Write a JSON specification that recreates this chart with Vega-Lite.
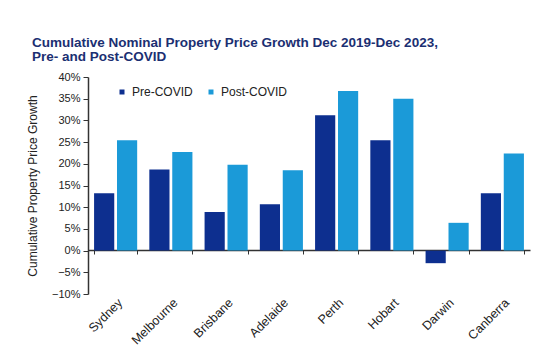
{
  "$schema": "https://vega.github.io/schema/vega-lite/v6.json",
  "width": 442,
  "height": 217,
  "autosize": "none",
  "padding": {"left": 88, "top": 77, "right": 21, "bottom": 59},
  "background": "white",
  "config": {
    "font": "Liberation Sans",
    "view": {"stroke": null},
    "axis": {"labelFont": "Liberation Sans", "titleFont": "Liberation Sans", "labelColor": "#222222", "titleColor": "#222222", "domainColor": "#333333", "tickColor": "#333333", "grid": false}
  },
  "title": {
    "text": ["Cumulative Nominal Property Price Growth Dec 2019-Dec 2023,", "Pre- and Post-COVID"],
    "anchor": "start",
    "frame": "group",
    "dx": -56,
    "offset": 8,
    "fontSize": 13.5,
    "fontWeight": "bold",
    "color": "#1b2f72",
    "lineHeight": 14,
    "font": "Liberation Sans"
  },
  "data": {
    "values": [
      {"city": "Sydney", "period": "Pre-COVID", "growth": 0.132},
      {"city": "Sydney", "period": "Post-COVID", "growth": 0.254},
      {"city": "Melbourne", "period": "Pre-COVID", "growth": 0.187},
      {"city": "Melbourne", "period": "Post-COVID", "growth": 0.227},
      {"city": "Brisbane", "period": "Pre-COVID", "growth": 0.089},
      {"city": "Brisbane", "period": "Post-COVID", "growth": 0.198},
      {"city": "Adelaide", "period": "Pre-COVID", "growth": 0.107},
      {"city": "Adelaide", "period": "Post-COVID", "growth": 0.185},
      {"city": "Perth", "period": "Pre-COVID", "growth": 0.312},
      {"city": "Perth", "period": "Post-COVID", "growth": 0.368},
      {"city": "Hobart", "period": "Pre-COVID", "growth": 0.254},
      {"city": "Hobart", "period": "Post-COVID", "growth": 0.35},
      {"city": "Darwin", "period": "Pre-COVID", "growth": -0.029},
      {"city": "Darwin", "period": "Post-COVID", "growth": 0.064},
      {"city": "Canberra", "period": "Pre-COVID", "growth": 0.132},
      {"city": "Canberra", "period": "Post-COVID", "growth": 0.224}
    ]
  },
  "mark": {"type": "bar", "stroke": null},
  "encoding": {
    "x": {
      "field": "city",
      "type": "nominal",
      "sort": null,
      "scale": {"paddingInner": 0.22, "paddingOuter": 0.11},
      "axis": {
        "title": null,
        "offset": -44,
        "tickBand": "extent",
        "tickSize": 4,
        "labelAngle": -45,
        "labelPadding": 42,
        "labelFontSize": 12.5,
        "domainWidth": 1.5
      }
    },
    "xOffset": {
      "field": "period",
      "sort": ["Pre-COVID", "Post-COVID"],
      "scale": {"paddingInner": 0.12}
    },
    "y": {
      "field": "growth",
      "type": "quantitative",
      "scale": {"domain": [-0.1, 0.4], "nice": false},
      "axis": {
        "title": "Cumulative  Property  Price Growth",
        "titleFontSize": 12,
        "titleFontWeight": "normal",
        "titlePadding": 12,
        "format": ".0%",
        "values": [-0.1, -0.05, 0, 0.05, 0.1, 0.15, 0.2, 0.25, 0.3, 0.35, 0.4],
        "labelFontSize": 11,
        "tickSize": 5,
        "labelPadding": 3,
        "domainWidth": 1.5
      }
    },
    "color": {
      "field": "period",
      "type": "nominal",
      "sort": ["Pre-COVID", "Post-COVID"],
      "scale": {"domain": ["Pre-COVID", "Post-COVID"], "range": ["#0d2f8f", "#1b9ad8"]},
      "legend": {
        "title": null,
        "orient": "none",
        "legendX": 28,
        "legendY": 9,
        "direction": "horizontal",
        "symbolType": "square",
        "symbolSize": 25,
        "labelFontSize": 12,
        "labelColor": "#222222",
        "columnPadding": 12,
        "labelOffset": 4
      }
    }
  }
}
